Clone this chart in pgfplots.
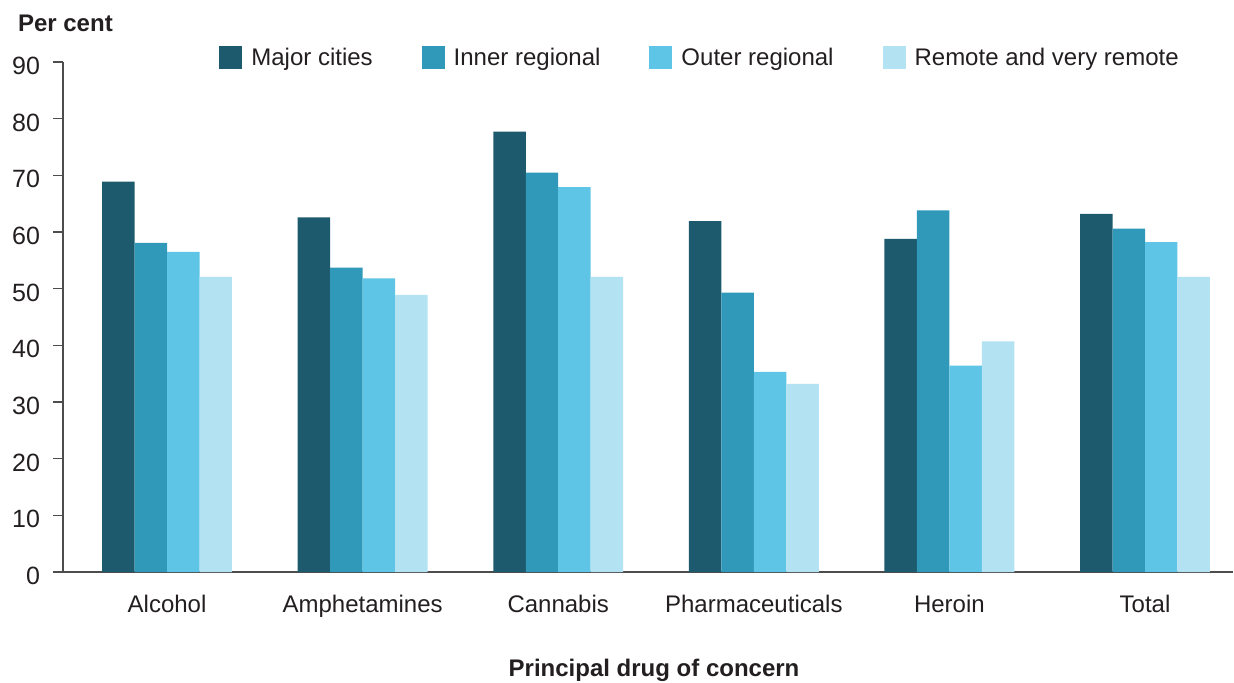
\documentclass[border=0pt]{standalone}
\usepackage{pgfplots}
\pgfplotsset{compat=1.18}
\usepackage{fontspec}
\setmainfont{Liberation Sans}

\definecolor{txt}{HTML}{231F20}
\definecolor{axisgray}{HTML}{4D4D4D}
\definecolor{cMajor}{HTML}{1D5A6E}
\definecolor{cInner}{HTML}{3099BA}
\definecolor{cOuter}{HTML}{5FC5E6}
\definecolor{cRemote}{HTML}{B3E2F3}

% x: 0 Alcohol, 1 Amphetamines, 2 Cannabis, 3 Pharmaceuticals, 4 Heroin, 5 Total
\pgfplotstableread{
x  major inner outer remote
0  68.9  58.1  56.5  52.1
1  62.6  53.7  51.8  48.9
2  77.7  70.5  67.9  52.1
3  61.9  49.3  35.3  33.2
4  58.8  63.8  36.4  40.7
5  63.2  60.6  58.2  52.1
}\drugdata

\begin{document}
\begin{tikzpicture}[font=\fontsize{12}{14}\selectfont, text=txt]
\path[use as bounding box] (-31.5pt,-55pt) rectangle (585.5pt,286pt);
\begin{axis}[
    at={(0pt,0pt)}, anchor=south west,
    scale only axis,
    width=585pt, height=255pt,
    ybar, bar width=0.166,
    xmin=-0.532, xmax=5.45,
    ymin=0, ymax=90,
    ytick={0,10,...,90},
    xtick={0,...,5},
    xticklabels={Alcohol,Amphetamines,Cannabis,Pharmaceuticals,Heroin,Total},
    axis x line*=bottom, axis y line*=left,
    axis line style={axisgray, line width=0.75pt, -},
    tick align=outside,
    x tick style={draw=none},
    y tick style={axisgray, line width=0.75pt},
    major tick length=5pt,
    xticklabel style={anchor=base, yshift=-15.3pt, font=\fontsize{12}{14}\selectfont},
    yticklabel style={anchor=base east, yshift=-6.2pt, xshift=-3pt, font=\fontsize{12.5}{14}\selectfont},
    /pgf/number format/assume math mode=true,
    tick label style={text=txt},
    legend style={at={(0.1333,1.008)}, anchor=west, draw=none, fill=none,
        inner sep=0pt, legend columns=-1,
        font=\fontsize{12}{14}\selectfont, text=txt,
        /tikz/every odd column/.append style={column sep=2.5pt},
        /tikz/every even column/.append style={column sep=22.5pt}},
    legend cell align=left,
    legend image code/.code={\fill[#1] (0pt,-5.75pt) rectangle (11.5pt,5.75pt);},
    every axis plot/.append style={draw=none},
]
\addplot[fill=cMajor, bar shift=-0.249] table[x=x, y=major] {\drugdata};
\addplot[fill=cInner, bar shift=-0.083] table[x=x, y=inner] {\drugdata};
\addplot[fill=cOuter, bar shift=0.083] table[x=x, y=outer] {\drugdata};
\addplot[fill=cRemote, bar shift=0.249] table[x=x, y=remote] {\drugdata};
\legend{Major cities, Inner regional, Outer regional, Remote and very remote}
\end{axis}
\node[anchor=base west, font=\fontsize{12}{14}\selectfont\bfseries] at (-26pt,270.2pt) {Per cent};
\node[anchor=base, font=\fontsize{12}{14}\selectfont\bfseries] at (295.5pt,-52.3pt) {Principal drug of concern};
\end{tikzpicture}
\end{document}
